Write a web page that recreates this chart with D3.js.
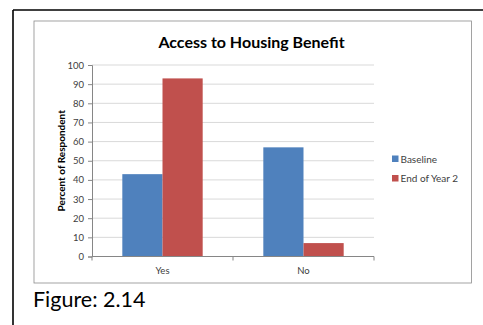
<!DOCTYPE html>
<html>
<head>
<meta charset="utf-8">
<script src="https://cdn.jsdelivr.net/npm/d3@7"></script>
<style>
  html, body { margin: 0; padding: 0; background: #fff; }
  svg { display: block; }
</style>
</head>
<body>
<script>
// Chart data
const categories = ["Yes", "No"];
const seriesNames = ["Baseline", "End of Year 2"];
const baseline = [43, 57];
const endOfYear2 = [93, 7];
const yTicks = [0, 10, 20, 30, 40, 50, 60, 70, 80, 90, 100];
const colors = ["#4F81BD", "#C0504D"];

const W = 483, H = 325;
const font = "Lato, 'Open Sans', sans-serif";

const svg = d3.select("body").append("svg")
  .attr("width", W).attr("height", H);

// Outer document frame (top and left edges visible)
svg.append("line").attr("x1", 13).attr("x2", W).attr("y1", 10).attr("y2", 10)
  .attr("stroke", "#000").attr("stroke-width", 1.6);
svg.append("line").attr("x1", 13).attr("x2", 13).attr("y1", 10).attr("y2", H)
  .attr("stroke", "#000").attr("stroke-width", 1.6);

// Chart area box
svg.append("rect").attr("x", 34).attr("y", 21).attr("width", 437.5).attr("height", 262)
  .attr("fill", "#fff").attr("stroke", "#8c8c8c").attr("stroke-width", 0.8);

// Title
svg.append("text").attr("x", 251.5).attr("y", 48)
  .attr("text-anchor", "middle")
  .attr("font-family", font).attr("font-weight", "bold")
  .attr("font-size", 16).attr("fill", "#000")
  .text("Access to Housing Benefit");

const plot = { left: 92, right: 374, top: 65, bottom: 256.5 };

const y = d3.scaleLinear().domain([0, 100]).range([plot.bottom, plot.top]);
const x0 = d3.scaleBand().domain(categories).range([plot.left, plot.right]).paddingInner(0.43).paddingOuter(0.215);
const x1 = d3.scaleBand().domain(seriesNames).range([0, x0.bandwidth()]);

// Gridlines
svg.append("g").selectAll("line").data(yTicks.filter(d => d > 0)).join("line")
  .attr("x1", plot.left).attr("x2", plot.right)
  .attr("y1", d => y(d)).attr("y2", d => y(d))
  .attr("stroke", "#d9d9d9").attr("stroke-width", 1);

// Y axis
const yAxis = svg.append("g").attr("transform", `translate(${plot.left},0)`)
  .call(d3.axisLeft(y).tickValues(yTicks).tickSize(4).tickPadding(4));
yAxis.select(".domain").attr("stroke", "#868686");
yAxis.selectAll(".tick line").attr("stroke", "#868686");
yAxis.selectAll("text").attr("font-family", font).attr("font-size", 9.5).attr("fill", "#404040");

// Bars
const groups = svg.append("g").selectAll("g").data(categories).join("g")
  .attr("transform", d => `translate(${x0(d)},0)`);
groups.selectAll("rect")
  .data((d, i) => seriesNames.map((s, j) => ({ s, v: [baseline, endOfYear2][j][i], j })))
  .join("rect")
  .attr("x", d => x1(d.s))
  .attr("y", d => y(d.v))
  .attr("width", x1.bandwidth())
  .attr("height", d => plot.bottom - y(d.v))
  .attr("fill", d => colors[d.j]);

// X axis
const xAxisScale = d3.scalePoint().domain([0, 1, 2]).range([plot.left, plot.right]);
const xAxis = svg.append("g");
xAxis.append("line").attr("x1", plot.left).attr("x2", plot.right)
  .attr("y1", plot.bottom).attr("y2", plot.bottom).attr("stroke", "#868686");
xAxis.selectAll(".tk").data([0, 1, 2]).join("line")
  .attr("x1", d => xAxisScale(d)).attr("x2", d => xAxisScale(d))
  .attr("y1", plot.bottom).attr("y2", plot.bottom + 4).attr("stroke", "#868686");
xAxis.selectAll("text").data(categories).join("text")
  .attr("x", d => x0(d) + x0.bandwidth() / 2)
  .attr("y", 274)
  .attr("text-anchor", "middle")
  .attr("font-family", font).attr("font-size", 9.5).attr("fill", "#404040")
  .text(d => d);

// Y axis title
svg.append("text")
  .attr("transform", `translate(65,${(plot.top + plot.bottom) / 2}) rotate(-90)`)
  .attr("text-anchor", "middle")
  .attr("font-family", font).attr("font-weight", "bold")
  .attr("font-size", 10).attr("fill", "#000")
  .text("Percent of Respondent");

// Legend
const legend = svg.append("g").selectAll("g").data(seriesNames).join("g")
  .attr("transform", (d, i) => `translate(392,${155.5 + i * 19.5})`);
legend.append("rect").attr("width", 6.5).attr("height", 6.5).attr("fill", (d, i) => colors[i]);
legend.append("text").attr("x", 8.5).attr("y", 7)
  .attr("font-family", font).attr("font-size", 10).attr("fill", "#404040")
  .text(d => d);

// Figure caption
svg.append("text").attr("x", 33).attr("y", 307)
  .attr("font-family", font).attr("font-size", 21.5).attr("fill", "#000")
  .text("Figure: 2.14");
</script>
</body>
</html>
